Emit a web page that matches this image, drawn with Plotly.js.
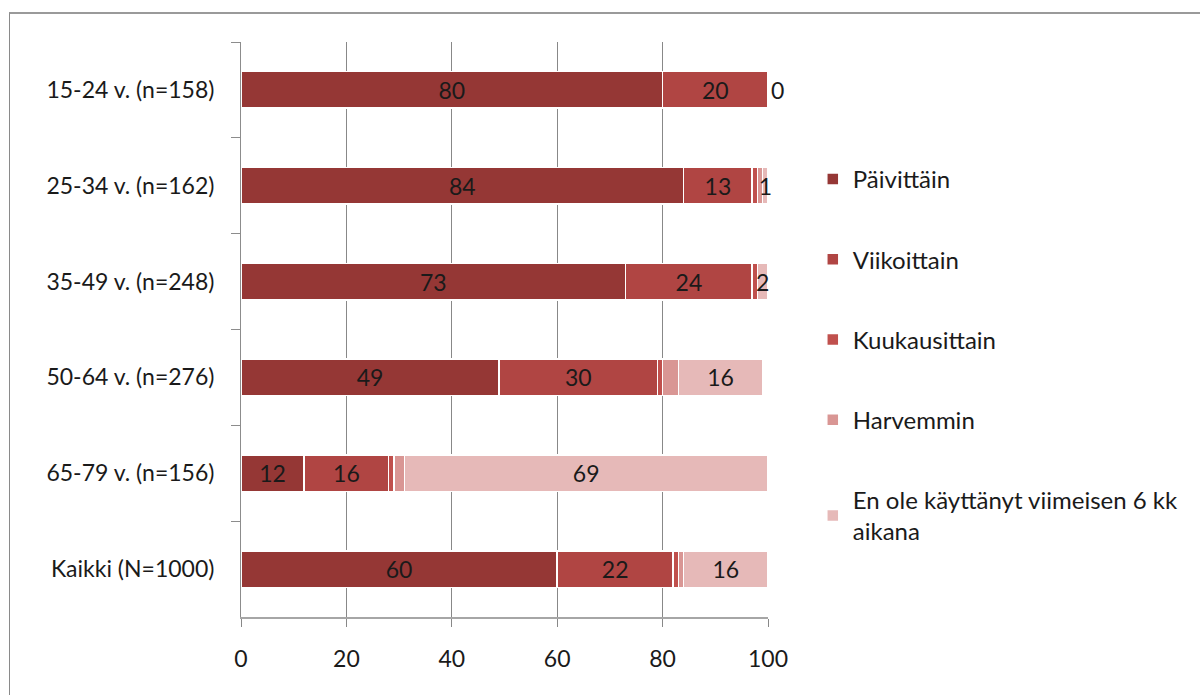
<!DOCTYPE html>
<html>
<head>
<meta charset="utf-8">
<script src="https://cdn.plot.ly/plotly-3.0.1.min.js"></script>
<style>
  html, body { margin:0; padding:0; background:#ffffff; width:1200px; height:695px; overflow:hidden; }
  #frame { position:absolute; left:9px; top:12px; width:1400px; height:900px; border-left:1px solid #8a8a8a; border-top:2px solid #9a9a9a; }
  #chart { position:absolute; left:0; top:0; width:1200px; height:695px; }
</style>
</head>
<body>
<div id="frame"></div>
<div id="chart"></div>
<script>
// Categories (top to bottom)
const categories = ["15-24 v. (n=158)", "25-34 v. (n=162)", "35-49 v. (n=248)", "50-64 v. (n=276)", "65-79 v. (n=156)", "Kaikki (N=1000)"];

// Series names
const seriesNames = ["Päivittäin", "Viikoittain", "Kuukausittain", "Harvemmin", "En ole käyttänyt viimeisen 6 kk<br>aikana"];

// Series values (%)
const paivittain    = [80, 84, 73, 49, 12, 60];
const viikoittain   = [20, 13, 24, 30, 16, 22];
const kuukausittain = [0, 1, 1, 1, 1, 1];
const harvemmin     = [0, 1, 0, 3, 2, 1];
const enOle         = [0, 1, 2, 16, 69, 16];

// Which series show data labels
const showLabels = [true, true, false, false, true];

// X tick values
const xTicks = [0, 20, 40, 60, 80, 100];

const FONT = "Lato, 'Open Sans', sans-serif";
const colors = ["#953735", "#b04543", "#c0504d", "#d99694", "#e6b9b8"];
const seriesValues = [paivittain, viikoittain, kuukausittain, harvemmin, enOle];

const traces = seriesValues.map((vals, k) => ({
  type: "bar",
  orientation: "h",
  name: seriesNames[k],
  legendgroup: "g" + k,
  y: categories,
  x: vals,
  text: vals.map(v => showLabels[k] ? String(v) : ""),
  textposition: vals.map(v => (v === 0 ? "outside" : "inside")),
  insidetextanchor: "middle",
  constraintext: "none",
  cliponaxis: false,
  textfont: { family: FONT, size: 23, color: "#1a1a1a" },
  marker: { color: colors[k], line: { color: "#ffffff", width: 1.5 } },
  hoverinfo: "x+name"
}));

const layout = {
  width: 1200,
  height: 695,
  barmode: "stack",
  bargap: 0.62,
  paper_bgcolor: "rgba(0,0,0,0)",
  plot_bgcolor: "rgba(0,0,0,0)",
  margin: { l: 241, r: 432, t: 42, b: 78 },
  font: { family: FONT, size: 23, color: "#1a1a1a" },
  showlegend: true,
  legend: {
    x: 1.085, xanchor: "left",
    y: 0.80, yanchor: "top",
    traceorder: "grouped",
    tracegroupgap: 46,
    font: { family: FONT, size: 24, color: "#1a1a1a" },
    bgcolor: "rgba(0,0,0,0)"
  },
  xaxis: {
    range: [0, 100],
    tickvals: xTicks,
    ticktext: xTicks.map(String),
    showgrid: true,
    gridcolor: "#888888",
    gridwidth: 1,
    zeroline: false,
    showline: true,
    linecolor: "#a6a6a6",
    linewidth: 2,
    ticks: "outside",
    ticklen: 8,
    tickcolor: "#888888",
    tickwidth: 1,
    ticklabelstandoff: 12,
    tickfont: { family: FONT, size: 23, color: "#1a1a1a" },
    fixedrange: true
  },
  yaxis: {
    type: "category",
    autorange: "reversed",
    showgrid: false,
    showline: true,
    linecolor: "#8c8c8c",
    linewidth: 1,
    ticks: "outside",
    tickson: "boundaries",
    ticklen: 9,
    tickcolor: "#8c8c8c",
    ticklabelstandoff: 21,
    tickfont: { family: FONT, size: 23, color: "#1a1a1a" },
    fixedrange: true
  }
};

Plotly.newPlot("chart", traces, layout, { displayModeBar: false, staticPlot: true });
</script>
</body>
</html>
